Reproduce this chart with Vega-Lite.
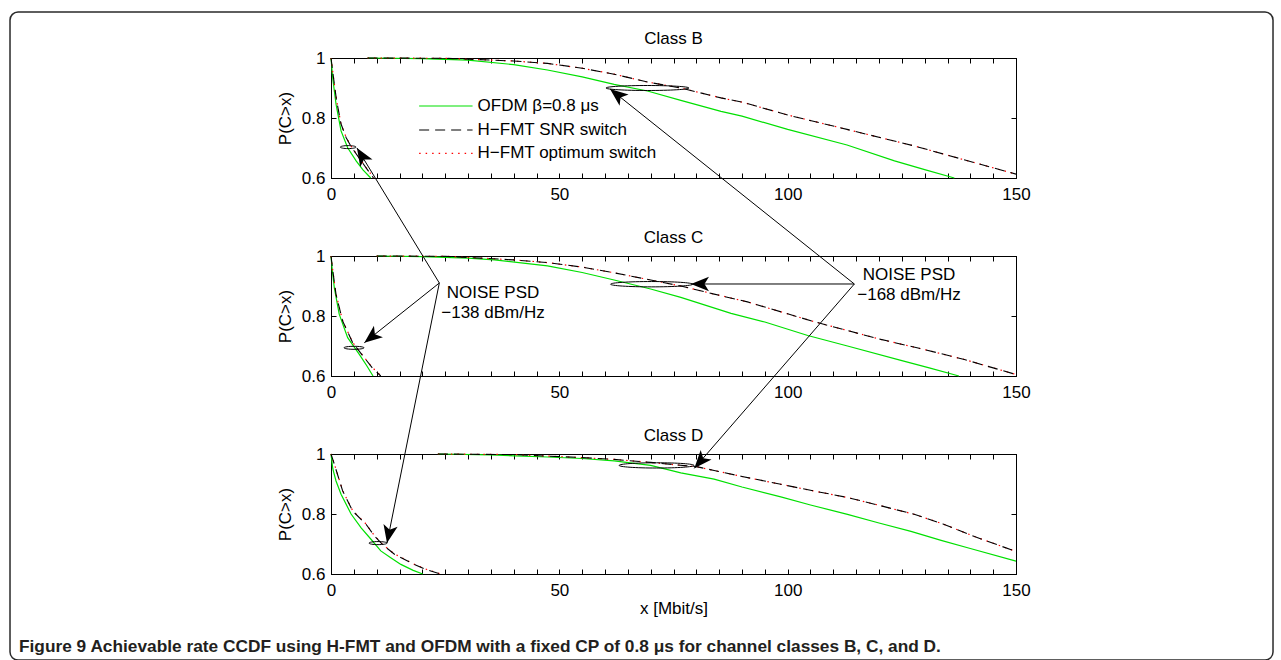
{
"$schema": "https://vega.github.io/schema/vega-lite/v6.json",
"background": "white",
"padding": {"left": 8, "top": 10, "right": 0, "bottom": 0},
"config": {
  "font": "Liberation Sans",
  "view": {"stroke": "black", "strokeWidth": 1},
  "axis": {"domainColor": "black", "domainWidth": 1, "tickColor": "black", "tickSize": -5, "tickWidth": 1, "labelFontSize": 17, "labelColor": "black", "labelFont": "Liberation Sans", "titleFontSize": 17, "titleFontWeight": "normal", "titleColor": "black", "titleFont": "Liberation Sans", "grid": false}
},
"datasets": {"curves": [
{"p":"B","s":"OFDM","g":"lo","x":0,"y":1},{"p":"B","s":"OFDM","g":"lo","x":0.4,"y":0.93},{"p":"B","s":"OFDM","g":"lo","x":1.1,"y":0.846},{"p":"B","s":"OFDM","g":"lo","x":2.2,"y":0.757},{"p":"B","s":"OFDM","g":"lo","x":3.65,"y":0.701},{"p":"B","s":"OFDM","g":"lo","x":5.5,"y":0.657},{"p":"B","s":"OFDM","g":"lo","x":7,"y":0.627},{"p":"B","s":"OFDM","g":"lo","x":8.7,"y":0.6},
{"p":"B","s":"OFDM","g":"hi","x":8,"y":1},{"p":"B","s":"OFDM","g":"hi","x":20,"y":0.998},{"p":"B","s":"OFDM","g":"hi","x":30,"y":0.993},{"p":"B","s":"OFDM","g":"hi","x":40,"y":0.978},{"p":"B","s":"OFDM","g":"hi","x":47.4,"y":0.96},{"p":"B","s":"OFDM","g":"hi","x":55,"y":0.937},{"p":"B","s":"OFDM","g":"hi","x":62,"y":0.912},{"p":"B","s":"OFDM","g":"hi","x":69.3,"y":0.89},{"p":"B","s":"OFDM","g":"hi","x":76.6,"y":0.859},{"p":"B","s":"OFDM","g":"hi","x":85.4,"y":0.822},{"p":"B","s":"OFDM","g":"hi","x":90,"y":0.806},{"p":"B","s":"OFDM","g":"hi","x":100,"y":0.762},{"p":"B","s":"OFDM","g":"hi","x":113,"y":0.71},{"p":"B","s":"OFDM","g":"hi","x":123.4,"y":0.657},{"p":"B","s":"OFDM","g":"hi","x":130,"y":0.628},{"p":"B","s":"OFDM","g":"hi","x":136.5,"y":0.6},
{"p":"B","s":"SNR","g":"lo","x":0,"y":1},{"p":"B","s":"SNR","g":"lo","x":0.5,"y":0.94},{"p":"B","s":"SNR","g":"lo","x":1.2,"y":0.86},{"p":"B","s":"SNR","g":"lo","x":2.2,"y":0.78},{"p":"B","s":"SNR","g":"lo","x":3.3,"y":0.735},{"p":"B","s":"SNR","g":"lo","x":4.4,"y":0.705},{"p":"B","s":"SNR","g":"lo","x":6.6,"y":0.657},{"p":"B","s":"SNR","g":"lo","x":8,"y":0.627},{"p":"B","s":"SNR","g":"lo","x":9.3,"y":0.6},
{"p":"B","s":"SNR","g":"hi","x":8,"y":1},{"p":"B","s":"SNR","g":"hi","x":25,"y":0.999},{"p":"B","s":"SNR","g":"hi","x":30,"y":0.996},{"p":"B","s":"SNR","g":"hi","x":40,"y":0.99},{"p":"B","s":"SNR","g":"hi","x":47.4,"y":0.982},{"p":"B","s":"SNR","g":"hi","x":55,"y":0.966},{"p":"B","s":"SNR","g":"hi","x":62,"y":0.946},{"p":"B","s":"SNR","g":"hi","x":69.3,"y":0.92},{"p":"B","s":"SNR","g":"hi","x":76.6,"y":0.9},{"p":"B","s":"SNR","g":"hi","x":85.4,"y":0.867},{"p":"B","s":"SNR","g":"hi","x":90,"y":0.853},{"p":"B","s":"SNR","g":"hi","x":100,"y":0.81},{"p":"B","s":"SNR","g":"hi","x":113,"y":0.762},{"p":"B","s":"SNR","g":"hi","x":127.7,"y":0.707},{"p":"B","s":"SNR","g":"hi","x":140,"y":0.655},{"p":"B","s":"SNR","g":"hi","x":150,"y":0.613},
{"p":"B","s":"OPT","g":"lo","x":0,"y":1},{"p":"B","s":"OPT","g":"lo","x":0.5,"y":0.94},{"p":"B","s":"OPT","g":"lo","x":1.2,"y":0.86},{"p":"B","s":"OPT","g":"lo","x":2.2,"y":0.78},{"p":"B","s":"OPT","g":"lo","x":3.3,"y":0.736},{"p":"B","s":"OPT","g":"lo","x":4.4,"y":0.706},{"p":"B","s":"OPT","g":"lo","x":6.6,"y":0.658},{"p":"B","s":"OPT","g":"lo","x":8,"y":0.628},{"p":"B","s":"OPT","g":"lo","x":9.4,"y":0.6},
{"p":"B","s":"OPT","g":"hi","x":8,"y":1},{"p":"B","s":"OPT","g":"hi","x":25,"y":0.999},{"p":"B","s":"OPT","g":"hi","x":30,"y":0.996},{"p":"B","s":"OPT","g":"hi","x":40,"y":0.99},{"p":"B","s":"OPT","g":"hi","x":47.4,"y":0.982},{"p":"B","s":"OPT","g":"hi","x":55,"y":0.966},{"p":"B","s":"OPT","g":"hi","x":62,"y":0.946},{"p":"B","s":"OPT","g":"hi","x":69.3,"y":0.92},{"p":"B","s":"OPT","g":"hi","x":76.6,"y":0.9},{"p":"B","s":"OPT","g":"hi","x":85.4,"y":0.867},{"p":"B","s":"OPT","g":"hi","x":90,"y":0.853},{"p":"B","s":"OPT","g":"hi","x":100,"y":0.81},{"p":"B","s":"OPT","g":"hi","x":113,"y":0.762},{"p":"B","s":"OPT","g":"hi","x":127.7,"y":0.707},{"p":"B","s":"OPT","g":"hi","x":140,"y":0.655},{"p":"B","s":"OPT","g":"hi","x":150,"y":0.613},
{"p":"C","s":"OFDM","g":"lo","x":0,"y":1},{"p":"C","s":"OFDM","g":"lo","x":0.3,"y":0.95},{"p":"C","s":"OFDM","g":"lo","x":0.73,"y":0.894},{"p":"C","s":"OFDM","g":"lo","x":1.8,"y":0.806},{"p":"C","s":"OFDM","g":"lo","x":3.65,"y":0.728},{"p":"C","s":"OFDM","g":"lo","x":6.2,"y":0.672},{"p":"C","s":"OFDM","g":"lo","x":7.8,"y":0.635},{"p":"C","s":"OFDM","g":"lo","x":9.2,"y":0.6},
{"p":"C","s":"OFDM","g":"hi","x":10,"y":1},{"p":"C","s":"OFDM","g":"hi","x":20,"y":0.998},{"p":"C","s":"OFDM","g":"hi","x":30,"y":0.993},{"p":"C","s":"OFDM","g":"hi","x":35.8,"y":0.987},{"p":"C","s":"OFDM","g":"hi","x":47.4,"y":0.967},{"p":"C","s":"OFDM","g":"hi","x":55,"y":0.945},{"p":"C","s":"OFDM","g":"hi","x":62,"y":0.92},{"p":"C","s":"OFDM","g":"hi","x":70,"y":0.89},{"p":"C","s":"OFDM","g":"hi","x":76.6,"y":0.862},{"p":"C","s":"OFDM","g":"hi","x":87.6,"y":0.809},{"p":"C","s":"OFDM","g":"hi","x":95,"y":0.78},{"p":"C","s":"OFDM","g":"hi","x":104.4,"y":0.735},{"p":"C","s":"OFDM","g":"hi","x":113.1,"y":0.7},{"p":"C","s":"OFDM","g":"hi","x":124.8,"y":0.652},{"p":"C","s":"OFDM","g":"hi","x":131,"y":0.627},{"p":"C","s":"OFDM","g":"hi","x":137.5,"y":0.6},
{"p":"C","s":"SNR","g":"lo","x":0,"y":1},{"p":"C","s":"SNR","g":"lo","x":0.4,"y":0.95},{"p":"C","s":"SNR","g":"lo","x":1.1,"y":0.872},{"p":"C","s":"SNR","g":"lo","x":2.55,"y":0.783},{"p":"C","s":"SNR","g":"lo","x":4.75,"y":0.711},{"p":"C","s":"SNR","g":"lo","x":7.3,"y":0.661},{"p":"C","s":"SNR","g":"lo","x":9,"y":0.628},{"p":"C","s":"SNR","g":"lo","x":10.9,"y":0.6},
{"p":"C","s":"SNR","g":"hi","x":10,"y":1},{"p":"C","s":"SNR","g":"hi","x":25,"y":0.999},{"p":"C","s":"SNR","g":"hi","x":32.8,"y":0.993},{"p":"C","s":"SNR","g":"hi","x":40,"y":0.987},{"p":"C","s":"SNR","g":"hi","x":47.4,"y":0.978},{"p":"C","s":"SNR","g":"hi","x":55,"y":0.963},{"p":"C","s":"SNR","g":"hi","x":62,"y":0.944},{"p":"C","s":"SNR","g":"hi","x":73,"y":0.911},{"p":"C","s":"SNR","g":"hi","x":76.6,"y":0.9},{"p":"C","s":"SNR","g":"hi","x":83.9,"y":0.873},{"p":"C","s":"SNR","g":"hi","x":91.2,"y":0.847},{"p":"C","s":"SNR","g":"hi","x":105.8,"y":0.781},{"p":"C","s":"SNR","g":"hi","x":120.4,"y":0.722},{"p":"C","s":"SNR","g":"hi","x":130,"y":0.688},{"p":"C","s":"SNR","g":"hi","x":138.7,"y":0.655},{"p":"C","s":"SNR","g":"hi","x":150,"y":0.605},
{"p":"C","s":"OPT","g":"lo","x":0,"y":1},{"p":"C","s":"OPT","g":"lo","x":0.4,"y":0.95},{"p":"C","s":"OPT","g":"lo","x":1.1,"y":0.873},{"p":"C","s":"OPT","g":"lo","x":2.55,"y":0.784},{"p":"C","s":"OPT","g":"lo","x":4.75,"y":0.712},{"p":"C","s":"OPT","g":"lo","x":7.3,"y":0.662},{"p":"C","s":"OPT","g":"lo","x":9,"y":0.629},{"p":"C","s":"OPT","g":"lo","x":11,"y":0.6},
{"p":"C","s":"OPT","g":"hi","x":10,"y":1},{"p":"C","s":"OPT","g":"hi","x":25,"y":0.999},{"p":"C","s":"OPT","g":"hi","x":32.8,"y":0.993},{"p":"C","s":"OPT","g":"hi","x":40,"y":0.987},{"p":"C","s":"OPT","g":"hi","x":47.4,"y":0.978},{"p":"C","s":"OPT","g":"hi","x":55,"y":0.963},{"p":"C","s":"OPT","g":"hi","x":62,"y":0.944},{"p":"C","s":"OPT","g":"hi","x":73,"y":0.911},{"p":"C","s":"OPT","g":"hi","x":76.6,"y":0.9},{"p":"C","s":"OPT","g":"hi","x":83.9,"y":0.873},{"p":"C","s":"OPT","g":"hi","x":91.2,"y":0.847},{"p":"C","s":"OPT","g":"hi","x":105.8,"y":0.781},{"p":"C","s":"OPT","g":"hi","x":120.4,"y":0.722},{"p":"C","s":"OPT","g":"hi","x":130,"y":0.688},{"p":"C","s":"OPT","g":"hi","x":138.7,"y":0.655},{"p":"C","s":"OPT","g":"hi","x":150,"y":0.605},
{"p":"D","s":"OFDM","g":"lo","x":0,"y":1},{"p":"D","s":"OFDM","g":"lo","x":0.4,"y":0.95},{"p":"D","s":"OFDM","g":"lo","x":1.1,"y":0.91},{"p":"D","s":"OFDM","g":"lo","x":2.2,"y":0.866},{"p":"D","s":"OFDM","g":"lo","x":4.4,"y":0.8},{"p":"D","s":"OFDM","g":"lo","x":6.6,"y":0.754},{"p":"D","s":"OFDM","g":"lo","x":8.8,"y":0.715},{"p":"D","s":"OFDM","g":"lo","x":10.9,"y":0.677},{"p":"D","s":"OFDM","g":"lo","x":13,"y":0.655},{"p":"D","s":"OFDM","g":"lo","x":15.3,"y":0.632},{"p":"D","s":"OFDM","g":"lo","x":18,"y":0.612},{"p":"D","s":"OFDM","g":"lo","x":20.1,"y":0.6},
{"p":"D","s":"OFDM","g":"hi","x":23.4,"y":1},{"p":"D","s":"OFDM","g":"hi","x":35,"y":0.997},{"p":"D","s":"OFDM","g":"hi","x":47.4,"y":0.99},{"p":"D","s":"OFDM","g":"hi","x":55,"y":0.985},{"p":"D","s":"OFDM","g":"hi","x":62,"y":0.977},{"p":"D","s":"OFDM","g":"hi","x":70,"y":0.962},{"p":"D","s":"OFDM","g":"hi","x":76.6,"y":0.937},{"p":"D","s":"OFDM","g":"hi","x":83.9,"y":0.916},{"p":"D","s":"OFDM","g":"hi","x":90,"y":0.89},{"p":"D","s":"OFDM","g":"hi","x":98.5,"y":0.857},{"p":"D","s":"OFDM","g":"hi","x":105,"y":0.83},{"p":"D","s":"OFDM","g":"hi","x":113.1,"y":0.799},{"p":"D","s":"OFDM","g":"hi","x":120,"y":0.77},{"p":"D","s":"OFDM","g":"hi","x":127,"y":0.742},{"p":"D","s":"OFDM","g":"hi","x":133.6,"y":0.712},{"p":"D","s":"OFDM","g":"hi","x":140,"y":0.685},{"p":"D","s":"OFDM","g":"hi","x":150,"y":0.643},
{"p":"D","s":"SNR","g":"lo","x":0,"y":1},{"p":"D","s":"SNR","g":"lo","x":0.73,"y":0.966},{"p":"D","s":"SNR","g":"lo","x":2.55,"y":0.877},{"p":"D","s":"SNR","g":"lo","x":4.75,"y":0.81},{"p":"D","s":"SNR","g":"lo","x":7.66,"y":0.766},{"p":"D","s":"SNR","g":"lo","x":9.5,"y":0.727},{"p":"D","s":"SNR","g":"lo","x":11.5,"y":0.695},{"p":"D","s":"SNR","g":"lo","x":13.9,"y":0.666},{"p":"D","s":"SNR","g":"lo","x":18.2,"y":0.632},{"p":"D","s":"SNR","g":"lo","x":21,"y":0.614},{"p":"D","s":"SNR","g":"lo","x":24,"y":0.6},
{"p":"D","s":"SNR","g":"hi","x":23.4,"y":1},{"p":"D","s":"SNR","g":"hi","x":40,"y":0.998},{"p":"D","s":"SNR","g":"hi","x":47.4,"y":0.993},{"p":"D","s":"SNR","g":"hi","x":55,"y":0.988},{"p":"D","s":"SNR","g":"hi","x":62,"y":0.982},{"p":"D","s":"SNR","g":"hi","x":70,"y":0.972},{"p":"D","s":"SNR","g":"hi","x":80.3,"y":0.957},{"p":"D","s":"SNR","g":"hi","x":83.9,"y":0.945},{"p":"D","s":"SNR","g":"hi","x":90,"y":0.925},{"p":"D","s":"SNR","g":"hi","x":98.5,"y":0.899},{"p":"D","s":"SNR","g":"hi","x":105,"y":0.879},{"p":"D","s":"SNR","g":"hi","x":113.1,"y":0.855},{"p":"D","s":"SNR","g":"hi","x":120,"y":0.829},{"p":"D","s":"SNR","g":"hi","x":127.7,"y":0.799},{"p":"D","s":"SNR","g":"hi","x":134,"y":0.767},{"p":"D","s":"SNR","g":"hi","x":140.9,"y":0.725},{"p":"D","s":"SNR","g":"hi","x":146,"y":0.697},{"p":"D","s":"SNR","g":"hi","x":150,"y":0.675},
{"p":"D","s":"OPT","g":"lo","x":0,"y":1},{"p":"D","s":"OPT","g":"lo","x":0.73,"y":0.967},{"p":"D","s":"OPT","g":"lo","x":2.55,"y":0.878},{"p":"D","s":"OPT","g":"lo","x":4.75,"y":0.811},{"p":"D","s":"OPT","g":"lo","x":7.66,"y":0.767},{"p":"D","s":"OPT","g":"lo","x":9.5,"y":0.728},{"p":"D","s":"OPT","g":"lo","x":11.5,"y":0.696},{"p":"D","s":"OPT","g":"lo","x":13.9,"y":0.667},{"p":"D","s":"OPT","g":"lo","x":18.2,"y":0.633},{"p":"D","s":"OPT","g":"lo","x":21,"y":0.615},{"p":"D","s":"OPT","g":"lo","x":24.1,"y":0.6},
{"p":"D","s":"OPT","g":"hi","x":23.4,"y":1},{"p":"D","s":"OPT","g":"hi","x":40,"y":0.998},{"p":"D","s":"OPT","g":"hi","x":47.4,"y":0.993},{"p":"D","s":"OPT","g":"hi","x":55,"y":0.988},{"p":"D","s":"OPT","g":"hi","x":62,"y":0.982},{"p":"D","s":"OPT","g":"hi","x":70,"y":0.972},{"p":"D","s":"OPT","g":"hi","x":80.3,"y":0.957},{"p":"D","s":"OPT","g":"hi","x":83.9,"y":0.945},{"p":"D","s":"OPT","g":"hi","x":90,"y":0.925},{"p":"D","s":"OPT","g":"hi","x":98.5,"y":0.899},{"p":"D","s":"OPT","g":"hi","x":105,"y":0.879},{"p":"D","s":"OPT","g":"hi","x":113.1,"y":0.855},{"p":"D","s":"OPT","g":"hi","x":120,"y":0.829},{"p":"D","s":"OPT","g":"hi","x":127.7,"y":0.799},{"p":"D","s":"OPT","g":"hi","x":134,"y":0.767},{"p":"D","s":"OPT","g":"hi","x":140.9,"y":0.725},{"p":"D","s":"OPT","g":"hi","x":146,"y":0.697},{"p":"D","s":"OPT","g":"hi","x":150,"y":0.675}
]},
"spacing": 78,
"bounds": "flush",
"vconcat": [
{
  "width": 685, "height": 120,
  "resolve": {"axis": {"x": "independent", "y": "independent"}},
  "layer": [
    {"data": {"name": "curves"}, "transform": [{"filter": "datum.p==='B' && datum.s==='OFDM'"}],
     "mark": {"type": "line", "color": "#00e000", "strokeWidth": 1.2},
     "encoding": {
       "x": {"field": "x", "type": "quantitative", "scale": {"domain": [0,150], "nice": false, "zero": false}, "axis": {"values": [0,5,10,15,20,25,30,35,40,45,50,55,60,65,70,75,80,85,90,95,100,105,110,115,120,125,130,135,140,145,150], "labelExpr": "datum.value % 50 === 0 ? datum.label : ''", "format": "d", "labelFlush": false, "labelOverlap": false, "labelPadding": 13, "title": null}},
       "y": {"field": "y", "type": "quantitative", "scale": {"domain": [0.6,1], "nice": false, "zero": false}, "axis": {"values": [0.6,0.8,1], "format": "~g", "labelPadding": 11, "labelOverlap": false, "labelFlush": false, "title": "P(C>x)", "titlePadding": 7}},
       "detail": {"field": "g"}}},
    {"data": {"name": "curves"}, "transform": [{"filter": "datum.p==='B' && datum.s==='OPT'"}],
     "mark": {"type": "line", "color": "#ff0000", "strokeWidth": 1.2, "strokeDash": [1.5, 5]},
     "encoding": {
       "x": {"field": "x", "type": "quantitative", "scale": {"domain": [0,150]}, "axis": {"orient": "top", "values": [0,5,10,15,20,25,30,35,40,45,50,55,60,65,70,75,80,85,90,95,100,105,110,115,120,125,130,135,140,145,150], "labels": false, "title": null}},
       "y": {"field": "y", "type": "quantitative", "scale": {"domain": [0.6,1]}, "axis": {"orient": "right", "values": [0.6,0.8,1], "labels": false, "title": null}},
       "detail": {"field": "g"}}},
    {"data": {"name": "curves"}, "transform": [{"filter": "datum.p==='B' && datum.s==='SNR'"}],
     "mark": {"type": "line", "color": "black", "strokeWidth": 1.1, "strokeDash": [10, 6]},
     "encoding": {
       "x": {"field": "x", "type": "quantitative", "scale": {"domain": [0,150]}, "axis": null},
       "y": {"field": "y", "type": "quantitative", "scale": {"domain": [0.6,1]}, "axis": null},
       "detail": {"field": "g"}}},
    {"data": {"values": [{}]}, "mark": {"type": "text", "text": "Class B", "align": "center", "baseline": "alphabetic", "font": "Liberation Sans", "fontSize": 17, "color": "black", "clip": false},
     "encoding": {"x": {"datum": 75, "type": "quantitative", "scale": {"domain": [0,150]}, "axis": null}, "y": {"datum": 1.0457, "type": "quantitative", "scale": {"domain": [0.6,1]}, "axis": null}}},
    {"data": {"values": [{}]}, "mark": {"type": "point", "shape": "M-1,0A1,0.19,0,1,0,1,0A1,0.19,0,1,0,-1,0Z", "size": 246, "filled": false, "color": "black", "strokeWidth": 1, "opacity": 1, "clip": false},
     "encoding": {"x": {"datum": 3.76, "type": "quantitative", "scale": {"domain": [0,150]}, "axis": null}, "y": {"datum": 0.703, "type": "quantitative", "scale": {"domain": [0.6,1]}, "axis": null}}},
    {"data": {"values": [{}]}, "mark": {"type": "point", "shape": "M-1,0A1,0.06,0,1,0,1,0A1,0.06,0,1,0,-1,0Z", "size": 6889, "filled": false, "color": "black", "strokeWidth": 1, "opacity": 1, "clip": false},
     "encoding": {"x": {"datum": 69.3, "type": "quantitative", "scale": {"domain": [0,150]}, "axis": null}, "y": {"datum": 0.9, "type": "quantitative", "scale": {"domain": [0.6,1]}, "axis": null}}},
    {"data": {"values": [{}]}, "mark": {"type": "rule", "color": "#00e000", "strokeWidth": 1.2},
     "encoding": {"x": {"datum": 19.3, "type": "quantitative", "scale": {"domain": [0,150]}, "axis": null}, "x2": {"datum": 31.0}, "y": {"datum": 0.84, "type": "quantitative", "scale": {"domain": [0.6,1]}, "axis": null}}},
    {"data": {"values": [{}]}, "mark": {"type": "rule", "color": "black", "strokeWidth": 1.1, "strokeDash": [10, 6]},
     "encoding": {"x": {"datum": 19.3, "type": "quantitative", "scale": {"domain": [0,150]}, "axis": null}, "x2": {"datum": 31.0}, "y": {"datum": 0.76, "type": "quantitative", "scale": {"domain": [0.6,1]}, "axis": null}}},
    {"data": {"values": [{}]}, "mark": {"type": "rule", "color": "#ff0000", "strokeWidth": 1.2, "strokeDash": [1.5, 5]},
     "encoding": {"x": {"datum": 19.3, "type": "quantitative", "scale": {"domain": [0,150]}, "axis": null}, "x2": {"datum": 31.0}, "y": {"datum": 0.682, "type": "quantitative", "scale": {"domain": [0.6,1]}, "axis": null}}},
    {"data": {"values": [{}]}, "mark": {"type": "text", "text": "OFDM β=0.8 μs", "align": "left", "baseline": "middle", "font": "Liberation Sans", "fontSize": 17, "color": "black"},
     "encoding": {"x": {"datum": 32.1, "type": "quantitative", "scale": {"domain": [0,150]}, "axis": null}, "y": {"datum": 0.84, "type": "quantitative", "scale": {"domain": [0.6,1]}, "axis": null}}},
    {"data": {"values": [{}]}, "mark": {"type": "text", "text": "H−FMT SNR switch", "align": "left", "baseline": "middle", "font": "Liberation Sans", "fontSize": 17, "color": "black"},
     "encoding": {"x": {"datum": 32.1, "type": "quantitative", "scale": {"domain": [0,150]}, "axis": null}, "y": {"datum": 0.76, "type": "quantitative", "scale": {"domain": [0.6,1]}, "axis": null}}},
    {"data": {"values": [{}]}, "mark": {"type": "text", "text": "H−FMT optimum switch", "align": "left", "baseline": "middle", "font": "Liberation Sans", "fontSize": 17, "color": "black"},
     "encoding": {"x": {"datum": 32.1, "type": "quantitative", "scale": {"domain": [0,150]}, "axis": null}, "y": {"datum": 0.682, "type": "quantitative", "scale": {"domain": [0.6,1]}, "axis": null}}}
  ]
},
{
  "width": 685, "height": 120,
  "resolve": {"axis": {"x": "independent", "y": "independent"}},
  "layer": [
    {"data": {"name": "curves"}, "transform": [{"filter": "datum.p==='C' && datum.s==='OFDM'"}],
     "mark": {"type": "line", "color": "#00e000", "strokeWidth": 1.2},
     "encoding": {
       "x": {"field": "x", "type": "quantitative", "scale": {"domain": [0,150], "nice": false, "zero": false}, "axis": {"values": [0,5,10,15,20,25,30,35,40,45,50,55,60,65,70,75,80,85,90,95,100,105,110,115,120,125,130,135,140,145,150], "labelExpr": "datum.value % 50 === 0 ? datum.label : ''", "format": "d", "labelFlush": false, "labelOverlap": false, "labelPadding": 13, "title": null}},
       "y": {"field": "y", "type": "quantitative", "scale": {"domain": [0.6,1], "nice": false, "zero": false}, "axis": {"values": [0.6,0.8,1], "format": "~g", "labelPadding": 11, "labelOverlap": false, "labelFlush": false, "title": "P(C>x)", "titlePadding": 7}},
       "detail": {"field": "g"}}},
    {"data": {"name": "curves"}, "transform": [{"filter": "datum.p==='C' && datum.s==='OPT'"}],
     "mark": {"type": "line", "color": "#ff0000", "strokeWidth": 1.2, "strokeDash": [1.5, 5]},
     "encoding": {
       "x": {"field": "x", "type": "quantitative", "scale": {"domain": [0,150]}, "axis": {"orient": "top", "values": [0,5,10,15,20,25,30,35,40,45,50,55,60,65,70,75,80,85,90,95,100,105,110,115,120,125,130,135,140,145,150], "labels": false, "title": null}},
       "y": {"field": "y", "type": "quantitative", "scale": {"domain": [0.6,1]}, "axis": {"orient": "right", "values": [0.6,0.8,1], "labels": false, "title": null}},
       "detail": {"field": "g"}}},
    {"data": {"name": "curves"}, "transform": [{"filter": "datum.p==='C' && datum.s==='SNR'"}],
     "mark": {"type": "line", "color": "black", "strokeWidth": 1.1, "strokeDash": [10, 6]},
     "encoding": {
       "x": {"field": "x", "type": "quantitative", "scale": {"domain": [0,150]}, "axis": null},
       "y": {"field": "y", "type": "quantitative", "scale": {"domain": [0.6,1]}, "axis": null},
       "detail": {"field": "g"}}},
    {"data": {"values": [{}]}, "mark": {"type": "text", "text": "Class C", "align": "center", "baseline": "alphabetic", "font": "Liberation Sans", "fontSize": 17, "color": "black", "clip": false},
     "encoding": {"x": {"datum": 75, "type": "quantitative", "scale": {"domain": [0,150]}, "axis": null}, "y": {"datum": 1.0447, "type": "quantitative", "scale": {"domain": [0.6,1]}, "axis": null}}},
    {"data": {"values": [{}]}, "mark": {"type": "point", "shape": "M-1,0A1,0.15,0,1,0,1,0A1,0.15,0,1,0,-1,0Z", "size": 400, "filled": false, "color": "black", "strokeWidth": 1, "opacity": 1, "clip": false},
     "encoding": {"x": {"datum": 5.04, "type": "quantitative", "scale": {"domain": [0,150]}, "axis": null}, "y": {"datum": 0.694, "type": "quantitative", "scale": {"domain": [0.6,1]}, "axis": null}}},
    {"data": {"values": [{}]}, "mark": {"type": "point", "shape": "M-1,0A1,0.065,0,1,0,1,0A1,0.065,0,1,0,-1,0Z", "size": 6724, "filled": false, "color": "black", "strokeWidth": 1, "opacity": 1, "clip": false},
     "encoding": {"x": {"datum": 70.2, "type": "quantitative", "scale": {"domain": [0,150]}, "axis": null}, "y": {"datum": 0.906, "type": "quantitative", "scale": {"domain": [0.6,1]}, "axis": null}}},
    {"data": {"values": [{}]}, "mark": {"type": "rect", "fillOpacity": 0, "stroke": "#2a2a2a", "strokeWidth": 1.5, "cornerRadius": 8, "clip": false},
     "encoding": {"x": {"datum": -70.29, "type": "quantitative", "scale": {"domain": [0,150]}, "axis": null}, "x2": {"datum": 206.28}, "y": {"datum": 1.8133, "type": "quantitative", "scale": {"domain": [0.6,1]}, "axis": null}, "y2": {"datum": -0.3467}}},
    {"data": {"values": [{}]}, "mark": {"type": "rule", "color": "black", "strokeWidth": 1, "clip": false},
     "encoding": {"x": {"datum": 23.72, "type": "quantitative", "scale": {"domain": [0,150]}, "axis": null}, "x2": {"datum": 5.69}, "y": {"datum": 0.91, "type": "quantitative", "scale": {"domain": [0.6,1]}, "axis": null}, "y2": {"datum": 1.36}}},
    {"data": {"values": [{}]}, "mark": {"type": "rule", "color": "black", "strokeWidth": 1, "clip": false},
     "encoding": {"x": {"datum": 23.72, "type": "quantitative", "scale": {"domain": [0,150]}, "axis": null}, "x2": {"datum": 7.3}, "y": {"datum": 0.91, "type": "quantitative", "scale": {"domain": [0.6,1]}, "axis": null}, "y2": {"datum": 0.711}}},
    {"data": {"values": [{}]}, "mark": {"type": "rule", "color": "black", "strokeWidth": 1, "clip": false},
     "encoding": {"x": {"datum": 23.72, "type": "quantitative", "scale": {"domain": [0,150]}, "axis": null}, "x2": {"datum": 12.26}, "y": {"datum": 0.91, "type": "quantitative", "scale": {"domain": [0.6,1]}, "axis": null}, "y2": {"datum": 0.0433}}},
    {"data": {"values": [{}]}, "mark": {"type": "rule", "color": "black", "strokeWidth": 1, "clip": false},
     "encoding": {"x": {"datum": 114.6, "type": "quantitative", "scale": {"domain": [0,150]}, "axis": null}, "x2": {"datum": 61.1}, "y": {"datum": 0.9067, "type": "quantitative", "scale": {"domain": [0.6,1]}, "axis": null}, "y2": {"datum": 1.5567}}},
    {"data": {"values": [{}]}, "mark": {"type": "rule", "color": "black", "strokeWidth": 1, "clip": false},
     "encoding": {"x": {"datum": 114.6, "type": "quantitative", "scale": {"domain": [0,150]}, "axis": null}, "x2": {"datum": 78.83}, "y": {"datum": 0.9067, "type": "quantitative", "scale": {"domain": [0.6,1]}, "axis": null}, "y2": {"datum": 0.9067}}},
    {"data": {"values": [{}]}, "mark": {"type": "rule", "color": "black", "strokeWidth": 1, "clip": false},
     "encoding": {"x": {"datum": 114.6, "type": "quantitative", "scale": {"domain": [0,150]}, "axis": null}, "x2": {"datum": 79.56}, "y": {"datum": 0.9067, "type": "quantitative", "scale": {"domain": [0.6,1]}, "axis": null}, "y2": {"datum": 0.2922}}},
    {"data": {"values": [{}]}, "mark": {"type": "point", "shape": "M0,0L-1,-0.4L-0.75,0L-1,0.4Z", "size": 1296, "filled": true, "color": "black", "opacity": 1, "angle": -121.4, "clip": false},
     "encoding": {"x": {"datum": 5.69, "type": "quantitative", "scale": {"domain": [0,150]}, "axis": null}, "y": {"datum": 1.36, "type": "quantitative", "scale": {"domain": [0.6,1]}, "axis": null}}},
    {"data": {"values": [{}]}, "mark": {"type": "point", "shape": "M0,0L-1,-0.4L-0.75,0L-1,0.4Z", "size": 1296, "filled": true, "color": "black", "opacity": 1, "angle": 141.5, "clip": false},
     "encoding": {"x": {"datum": 7.3, "type": "quantitative", "scale": {"domain": [0,150]}, "axis": null}, "y": {"datum": 0.711, "type": "quantitative", "scale": {"domain": [0.6,1]}, "axis": null}}},
    {"data": {"values": [{}]}, "mark": {"type": "point", "shape": "M0,0L-1,-0.4L-0.75,0L-1,0.4Z", "size": 1296, "filled": true, "color": "black", "opacity": 1, "angle": 101.4, "clip": false},
     "encoding": {"x": {"datum": 12.26, "type": "quantitative", "scale": {"domain": [0,150]}, "axis": null}, "y": {"datum": 0.0433, "type": "quantitative", "scale": {"domain": [0.6,1]}, "axis": null}}},
    {"data": {"values": [{}]}, "mark": {"type": "point", "shape": "M0,0L-1,-0.4L-0.75,0L-1,0.4Z", "size": 1296, "filled": true, "color": "black", "opacity": 1, "angle": -141.4, "clip": false},
     "encoding": {"x": {"datum": 61.1, "type": "quantitative", "scale": {"domain": [0,150]}, "axis": null}, "y": {"datum": 1.5567, "type": "quantitative", "scale": {"domain": [0.6,1]}, "axis": null}}},
    {"data": {"values": [{}]}, "mark": {"type": "point", "shape": "M0,0L-1,-0.4L-0.75,0L-1,0.4Z", "size": 1296, "filled": true, "color": "black", "opacity": 1, "angle": 180, "clip": false},
     "encoding": {"x": {"datum": 78.83, "type": "quantitative", "scale": {"domain": [0,150]}, "axis": null}, "y": {"datum": 0.9067, "type": "quantitative", "scale": {"domain": [0.6,1]}, "axis": null}}},
    {"data": {"values": [{}]}, "mark": {"type": "point", "shape": "M0,0L-1,-0.4L-0.75,0L-1,0.4Z", "size": 1296, "filled": true, "color": "black", "opacity": 1, "angle": 131, "clip": false},
     "encoding": {"x": {"datum": 79.56, "type": "quantitative", "scale": {"domain": [0,150]}, "axis": null}, "y": {"datum": 0.2922, "type": "quantitative", "scale": {"domain": [0.6,1]}, "axis": null}}},
    {"data": {"values": [{}]}, "mark": {"type": "text", "text": ["NOISE PSD", "−138 dBm/Hz"], "align": "center", "baseline": "alphabetic", "lineHeight": 20, "font": "Liberation Sans", "fontSize": 17, "color": "black", "clip": false},
     "encoding": {"x": {"datum": 35.47, "type": "quantitative", "scale": {"domain": [0,150]}, "axis": null}, "y": {"datum": 0.861, "type": "quantitative", "scale": {"domain": [0.6,1]}, "axis": null}}},
    {"data": {"values": [{}]}, "mark": {"type": "text", "text": ["NOISE PSD", "−168 dBm/Hz"], "align": "center", "baseline": "alphabetic", "lineHeight": 20, "font": "Liberation Sans", "fontSize": 17, "color": "black", "clip": false},
     "encoding": {"x": {"datum": 126.57, "type": "quantitative", "scale": {"domain": [0,150]}, "axis": null}, "y": {"datum": 0.92, "type": "quantitative", "scale": {"domain": [0.6,1]}, "axis": null}}}
  ]
},
{
  "width": 685, "height": 120,
  "resolve": {"axis": {"x": "independent", "y": "independent"}},
  "layer": [
    {"data": {"name": "curves"}, "transform": [{"filter": "datum.p==='D' && datum.s==='OFDM'"}],
     "mark": {"type": "line", "color": "#00e000", "strokeWidth": 1.2},
     "encoding": {
       "x": {"field": "x", "type": "quantitative", "scale": {"domain": [0,150], "nice": false, "zero": false}, "axis": {"values": [0,5,10,15,20,25,30,35,40,45,50,55,60,65,70,75,80,85,90,95,100,105,110,115,120,125,130,135,140,145,150], "labelExpr": "datum.value % 50 === 0 ? datum.label : ''", "format": "d", "labelFlush": false, "labelOverlap": false, "labelPadding": 13, "title": "x [Mbit/s]", "titlePadding": 2}},
       "y": {"field": "y", "type": "quantitative", "scale": {"domain": [0.6,1], "nice": false, "zero": false}, "axis": {"values": [0.6,0.8,1], "format": "~g", "labelPadding": 11, "labelOverlap": false, "labelFlush": false, "title": "P(C>x)", "titlePadding": 7}},
       "detail": {"field": "g"}}},
    {"data": {"name": "curves"}, "transform": [{"filter": "datum.p==='D' && datum.s==='OPT'"}],
     "mark": {"type": "line", "color": "#ff0000", "strokeWidth": 1.2, "strokeDash": [1.5, 5]},
     "encoding": {
       "x": {"field": "x", "type": "quantitative", "scale": {"domain": [0,150]}, "axis": {"orient": "top", "values": [0,5,10,15,20,25,30,35,40,45,50,55,60,65,70,75,80,85,90,95,100,105,110,115,120,125,130,135,140,145,150], "labels": false, "title": null}},
       "y": {"field": "y", "type": "quantitative", "scale": {"domain": [0.6,1]}, "axis": {"orient": "right", "values": [0.6,0.8,1], "labels": false, "title": null}},
       "detail": {"field": "g"}}},
    {"data": {"name": "curves"}, "transform": [{"filter": "datum.p==='D' && datum.s==='SNR'"}],
     "mark": {"type": "line", "color": "black", "strokeWidth": 1.1, "strokeDash": [10, 6]},
     "encoding": {
       "x": {"field": "x", "type": "quantitative", "scale": {"domain": [0,150]}, "axis": null},
       "y": {"field": "y", "type": "quantitative", "scale": {"domain": [0.6,1]}, "axis": null},
       "detail": {"field": "g"}}},
    {"data": {"values": [{}]}, "mark": {"type": "text", "text": "Class D", "align": "center", "baseline": "alphabetic", "font": "Liberation Sans", "fontSize": 17, "color": "black", "clip": false},
     "encoding": {"x": {"datum": 75, "type": "quantitative", "scale": {"domain": [0,150]}, "axis": null}, "y": {"datum": 1.0437, "type": "quantitative", "scale": {"domain": [0.6,1]}, "axis": null}}},
    {"data": {"values": [{}]}, "mark": {"type": "point", "shape": "M-1,0A1,0.17,0,1,0,1,0A1,0.17,0,1,0,-1,0Z", "size": 324, "filled": false, "color": "black", "strokeWidth": 1, "opacity": 1, "clip": false},
     "encoding": {"x": {"datum": 10.3, "type": "quantitative", "scale": {"domain": [0,150]}, "axis": null}, "y": {"datum": 0.703, "type": "quantitative", "scale": {"domain": [0.6,1]}, "axis": null}}},
    {"data": {"values": [{}]}, "mark": {"type": "point", "shape": "M-1,0A1,0.07,0,1,0,1,0A1,0.07,0,1,0,-1,0Z", "size": 5625, "filled": false, "color": "black", "strokeWidth": 1, "opacity": 1, "clip": false},
     "encoding": {"x": {"datum": 71.3, "type": "quantitative", "scale": {"domain": [0,150]}, "axis": null}, "y": {"datum": 0.962, "type": "quantitative", "scale": {"domain": [0.6,1]}, "axis": null}}},
    {"data": {"values": [{}]}, "mark": {"type": "text", "text": "Figure 9 Achievable rate CCDF using H-FMT and OFDM with a fixed CP of 0.8 μs for channel classes B, C, and D.", "align": "left", "baseline": "alphabetic", "font": "Liberation Sans", "fontWeight": "bold", "fontSize": 17.3, "color": "#231f20", "clip": false},
     "encoding": {"x": {"datum": -68.32, "type": "quantitative", "scale": {"domain": [0,150]}, "axis": null}, "y": {"datum": 0.34, "type": "quantitative", "scale": {"domain": [0.6,1]}, "axis": null}}}
  ]
}
]
}
